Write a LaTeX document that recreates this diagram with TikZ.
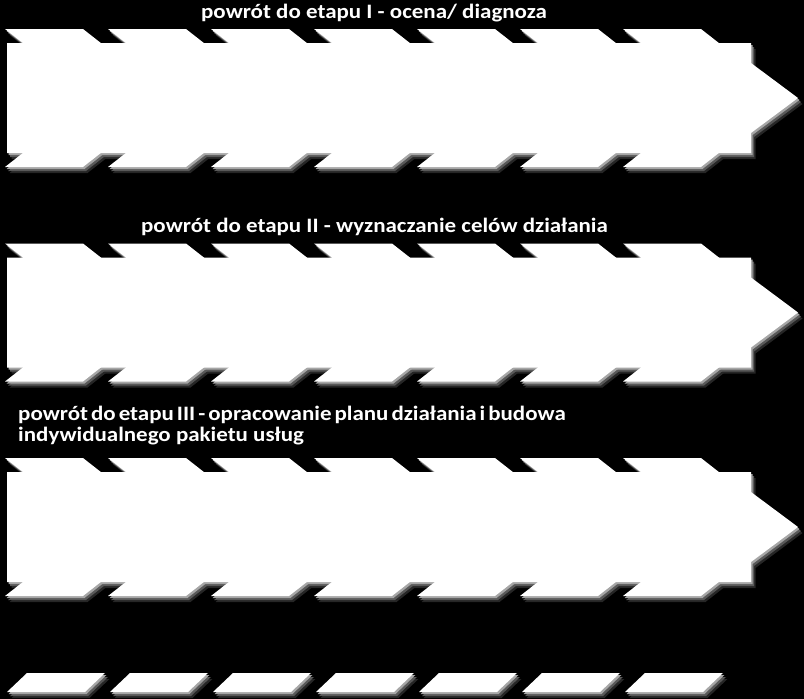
\documentclass[tikz,border=0pt]{standalone}
\usepackage{fontspec}
\setmainfont{Carlito}
\newfontfamily\stagefont[FakeStretch=1.12]{Carlito}

\begin{document}
\begin{tikzpicture}[x=1pt, y=-1pt,
        stagetext/.style={text=white, inner sep=0pt, font=\stagefont\bfseries\fontsize{20.5}{21}\selectfont}]
        \fill[black] (0,0) rectangle (804,699);
        \useasboundingbox (0,0) rectangle (804,699);

        % glow layers first, white shapes last
        \foreach \dx/\dy/\col in {4.5/6/white!15!black, 3/4/white!35!black, 1.5/2/white!65!black, 0/0/white} {
                \begin{scope}[shift={(\dx,\dy)}]
                        \foreach \y in {0, 214.5, 429} {
                                \fill[\col] (7,43+\y) -- (751,43+\y) -- (751,63+\y) -- (798,98+\y)
                                        -- (751,133+\y) -- (751,153+\y) -- (7,153+\y) -- cycle;
                                \foreach \k in {0,...,6} {
                                        \fill[\col] (5+103*\k,29+\y) -- (83+103*\k,29+\y)
                                                -- (101.5+103*\k,43.5+\y) -- (23.5+103*\k,43.5+\y) -- cycle;
                                        \fill[\col] (23.5+103*\k,152.5+\y) -- (101.5+103*\k,152.5+\y)
                                                -- (83+103*\k,167+\y) -- (5+103*\k,167+\y) -- cycle;
                                }
                        }
                        \foreach \k in {0,...,6} {
                                \fill[\col] (7+103*\k,692) -- (27+103*\k,673) -- (105+103*\k,673) -- (85+103*\k,692) -- cycle;
                        }
                \end{scope}
        }

        \node[stagetext, anchor=base] (etap1) at (374,18) {powrót do etapu I - ocena/ diagnoza};
        \node[stagetext, anchor=base] (etap2) at (374.5,232) {powrót do etapu II - wyznaczanie celów działania};
        \node[stagetext, anchor=base west, align=left] (etap3) at (18,441.5)
                {\spaceskip=3pt powrót do etapu III - opracowanie planu działania i budowa\\indywidualnego pakietu usług};
\end{tikzpicture}
\end{document}
